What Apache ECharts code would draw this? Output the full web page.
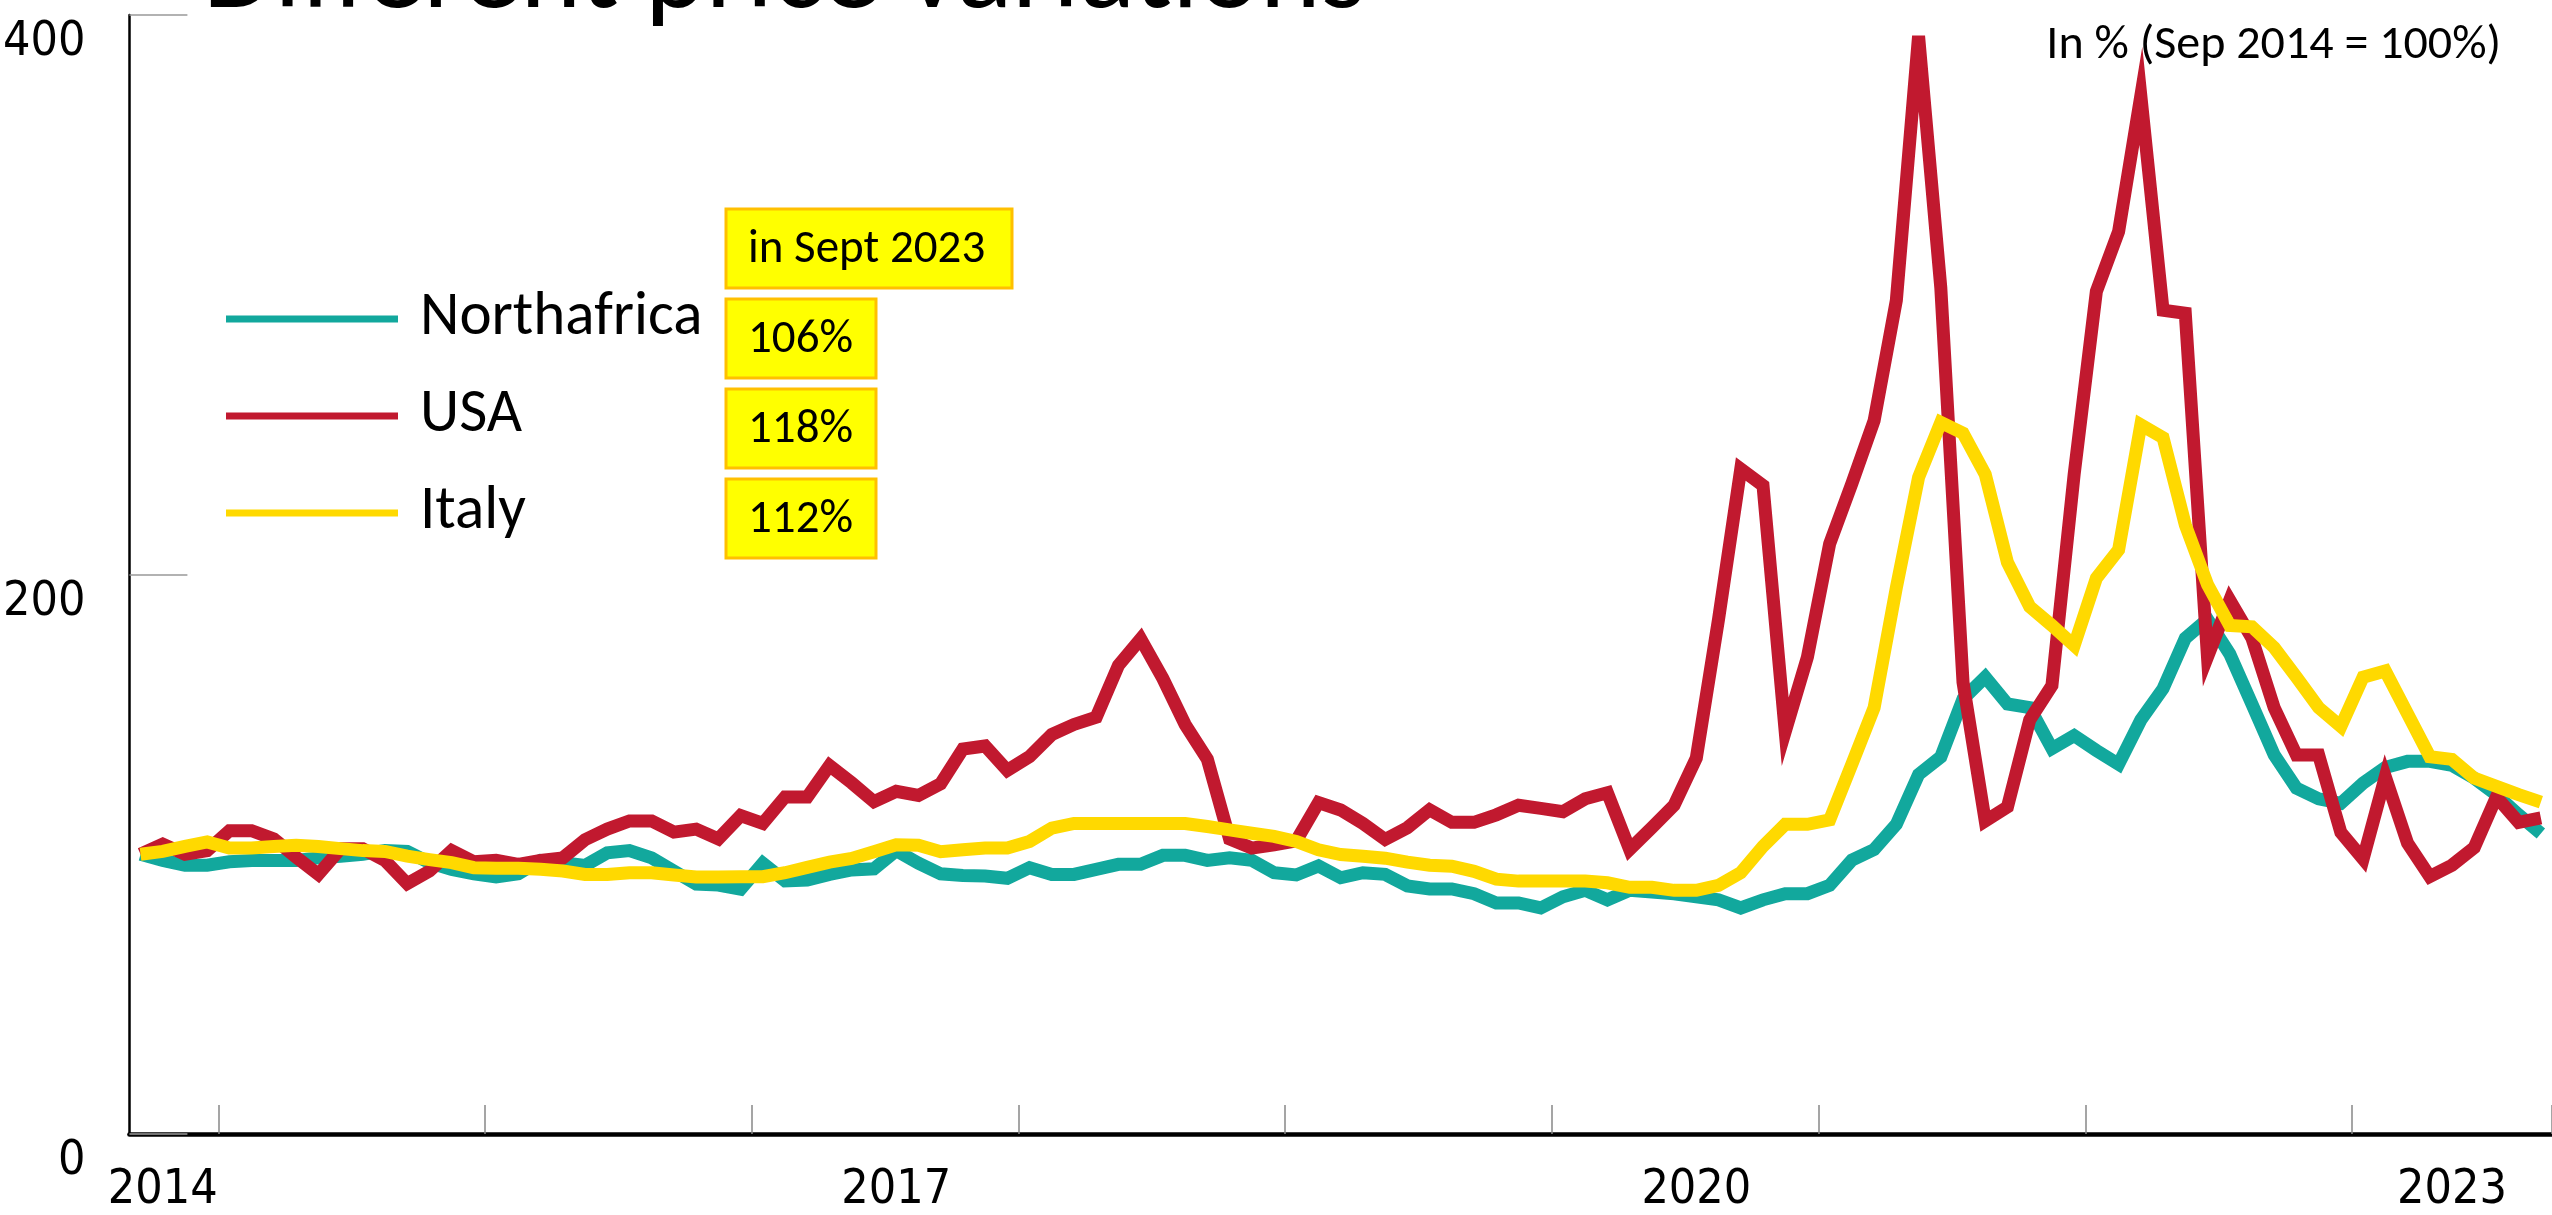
<!DOCTYPE html>
<html>
<head>
<meta charset="utf-8">
<script src="https://cdn.jsdelivr.net/npm/echarts@6/dist/echarts.min.js"></script>
<style>
html,body{margin:0;padding:0;background:#fff;}
#chart{width:2552px;height:1215px;}
</style>
</head>
<body>
<div id="chart"></div>
<script>
// ---- data ----
const seriesNames = ['Northafrica', 'USA', 'Italy'];
const startYear = 2014, startMonth = 9, monthCount = 109; // Sep 2014 .. Sep 2023
const northafrica = [100,97.8,96.1,96.1,97.3,97.8,97.8,97.8,98.7,99.3,100,101.3,101,97,94.6,93,91.9,93,97.8,97,96,100.5,101.3,98.7,94,89.3,89,87.5,96.8,90.5,90.8,92.8,94.4,94.8,101.3,96.8,93,92.4,92.2,91.4,95.2,92.8,92.8,94.6,96.4,96.4,99.6,99.6,97.8,98.7,97.8,93.4,92.6,95.8,91.6,93.4,92.8,88.7,87.6,87.6,85.9,82.6,82.6,80.8,84.8,87.1,83.7,87.1,86.5,85.9,84.8,83.7,80.8,83.7,85.9,85.9,88.9,97.9,101.7,110.7,128.5,134.8,155.5,163.3,153.7,152.4,137.8,142.4,137.1,132.2,148,159.2,177.2,184,171.6,153.7,135.5,123.6,119.8,118.2,125.4,131,133.2,133.2,131.8,127.2,121.3,114.1,107.4];
const usa = [100,103.6,100,101.3,108.4,108.4,105.5,99,92.8,102,102,97.8,89.5,94,101.3,97.3,97.8,96.4,97.8,98.7,105.2,109,111.9,111.9,107.9,109,105.5,113.8,111,120.5,120.5,131.7,125.5,118.8,122.5,121,125.2,137.6,138.7,130,134.9,142.8,146.4,149,167.5,177,162.8,146.4,134,105.5,102.2,103.4,104.8,118.5,115.8,111,105.3,109.5,115.9,111.4,111.4,114.1,117.5,116.4,115.2,119.8,122,101.7,109.5,117.5,134.4,184,237.7,231.8,143.8,170.5,211,232.5,255,298,392.5,302.5,161.5,111.9,116.9,148,160.3,235.8,301.2,322.6,371.1,294.5,293.4,170.5,190.8,177.2,152.4,135.5,135.5,107.8,98.3,127.7,104,92,96.1,102.4,120.5,111.4,113];
const italy = [100,101,102.8,104.4,102.2,102.2,102.8,103.2,102.8,102,101.3,101,99.3,98.1,97,95.2,95,95,94.6,94,92.8,92.8,93.4,93.4,92.6,91.9,91.9,92,92,93.4,95.3,97.2,98.5,100.9,103.4,103.2,100.9,101.6,102.2,102.2,104.6,109.3,111,111,111,111,111,111,109.9,108.7,107.5,106.4,104.6,101.6,99.9,99.3,98.6,97.2,96.1,95.7,93.9,91.1,90.4,90.4,90.4,90.4,89.8,88.2,88.2,87.1,87.1,88.9,93.4,102.8,110.7,110.7,112.3,132.2,152.4,195.3,234.7,254.4,250.5,235.8,204.3,188.5,181.8,174.6,198.7,208.8,253.5,248.9,217.8,196.4,181.8,181.3,173.9,163.3,152.4,145.7,163.3,165.5,150.2,134.9,133.9,127.2,124.3,121.3,118.6];
const yearLabelMonths = ['2014-10', '2017-07', '2020-07', '2023-05'];
const yearLabels = ['2014', '2017', '2020', '2023'];
const yTicks = [0, 200, 400];
const titleText = 'Different price variations';
const noteText = 'In % (Sep 2014 = 100%)';
const boxHeader = 'in Sept 2023';
const boxValues = ['106%', '118%', '112%'];

// categories
const months = [];
for (let k = 0; k < monthCount; k++) {
  const t = startMonth - 1 + k;
  const y = startYear + Math.floor(t / 12);
  const m = (t % 12) + 1;
  months.push(y + '-' + (m < 10 ? '0' + m : '' + m));
}

const colors = ['#12A89D', '#C1192F', '#FFD900'];
const narrow = "'Liberation Sans Narrow', 'DejaVu Sans Condensed', 'Liberation Sans', sans-serif";
const textFont = "Carlito, Lato, 'Open Sans', sans-serif";

const chart = echarts.init(document.getElementById('chart'));

const graphics = [
  { type: 'text', x: 203, y: -22, z: 10,
    style: { text: titleText, font: '116px ' + textFont, fill: '#000', align: 'left', verticalAlign: 'middle', textAlign: 'left', textVerticalAlign: 'middle' } },
  { type: 'text', x: 2501, y: 46, z: 10,
    style: { text: noteText, font: '48px ' + textFont, fill: '#000', align: 'right', verticalAlign: 'middle', textAlign: 'right', textVerticalAlign: 'middle' } }
];
const boxes = [{ label: boxHeader, w: 286 }].concat(boxValues.map(v => ({ label: v, w: 150 })));
boxes.forEach((b, k) => {
  const y0 = 209 + k * 90;
  graphics.push({ type: 'rect', z: 10, shape: { x: 726, y: y0, width: b.w, height: 79 },
    style: { fill: '#FFFF00', stroke: '#FFC000', lineWidth: 3 } });
  graphics.push({ type: 'text', z: 11, x: 748, y: y0 + 41,
    style: { text: b.label, font: '47px ' + textFont, fill: '#000', align: 'left', verticalAlign: 'middle', textAlign: 'left', textVerticalAlign: 'middle' } });
});

const option = {
  backgroundColor: '#fff',
  animation: false,
  color: colors,
  grid: { left: 125, right: 0, top: 15, bottom: 69 },
  legend: {
    data: seriesNames,
    orient: 'vertical',
    left: 226, top: 287,
    padding: 0,
    icon: 'rect',
    itemWidth: 172, itemHeight: 7,
    itemGap: 33,
    selectedMode: false,
    textStyle: { fontFamily: textFont, fontSize: 61, color: '#000', lineHeight: 64, padding: [0, 0, 0, 17] }
  },
  xAxis: {
    type: 'category',
    data: months,
    boundaryGap: true,
    axisLine: { lineStyle: { color: '#000', width: 4.5 } },
    axisTick: {
      show: true, inside: true, length: 29,
      interval: function (idx, val) { return String(val).slice(5) === '01'; },
      lineStyle: { color: '#888', width: 1.5 }
    },
    axisLabel: {
      interval: function (idx, val) { return yearLabelMonths.indexOf(val) >= 0; },
      formatter: function (val) { const p = yearLabelMonths.indexOf(val); return p >= 0 ? yearLabels[p] : ''; },
      fontFamily: narrow, fontSize: 48, color: '#000', margin: 33
    },
    splitLine: { show: false }
  },
  yAxis: {
    type: 'value',
    min: yTicks[0], max: yTicks[yTicks.length - 1], interval: yTicks[1] - yTicks[0],
    axisLine: { show: true, lineStyle: { color: '#000', width: 2.5 } },
    axisTick: { show: true, inside: true, length: 58, lineStyle: { color: '#999', width: 1.5 } },
    axisLabel: { fontFamily: narrow, fontSize: 48, color: '#000', margin: 44, verticalAlign: 'top', lineHeight: 48, padding: [4, 0, 0, 0] },
    splitLine: { show: false }
  },
  series: [
    { name: seriesNames[0], type: 'line', data: northafrica, symbol: 'none', z: 2,
      lineStyle: { width: 13, color: colors[0], join: 'miter' } },
    { name: seriesNames[1], type: 'line', data: usa, symbol: 'none', z: 3,
      lineStyle: { width: 13, color: colors[1], join: 'miter' } },
    { name: seriesNames[2], type: 'line', data: italy, symbol: 'none', z: 4,
      lineStyle: { width: 13, color: colors[2], join: 'miter' } }
  ],
  graphic: graphics
};
chart.setOption(option);
</script>
</body>
</html>
